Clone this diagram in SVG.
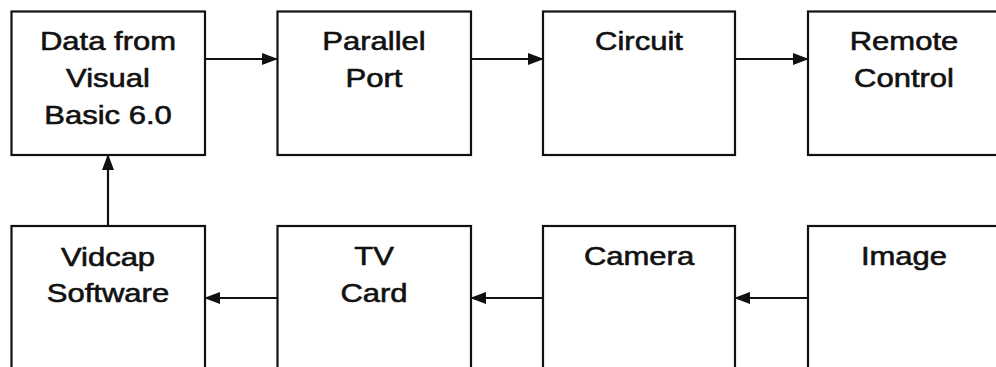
<svg xmlns="http://www.w3.org/2000/svg" width="996" height="367" viewBox="0 0 996 367">
<style>
.box{fill:#fff;stroke:#111;stroke-width:2.2}
.lbl{font-family:"Liberation Sans",Arial,sans-serif;font-size:26.5px;fill:#111;stroke:#111;stroke-width:0.6;text-anchor:middle}
.con{stroke:#111;stroke-width:2.2;fill:none}
</style>
<defs>
<marker id="ah" markerWidth="16" markerHeight="12" refX="15" refY="6" orient="auto" markerUnits="userSpaceOnUse">
<path d="M0,0 L16,6 L0,12 Z" fill="#111"/>
</marker>
</defs>
<rect width="996" height="367" fill="#fff"/>
<g id="n-data">
<rect class="box" x="11.5" y="11.5" width="193.5" height="143.5"/>
<g transform="translate(108,0) scale(1.17,1)"><text class="lbl" x="0" y="50">Data from</text><text class="lbl" x="0" y="87">Visual</text><text class="lbl" x="0" y="124">Basic 6.0</text></g>
</g>
<g id="n-parallel">
<rect class="box" x="277.5" y="11.5" width="193.5" height="143.5"/>
<g transform="translate(374,0) scale(1.17,1)"><text class="lbl" x="0" y="50">Parallel</text><text class="lbl" x="0" y="87">Port</text></g>
</g>
<g id="n-circuit">
<rect class="box" x="543" y="11.5" width="192" height="143.5"/>
<g transform="translate(639,0) scale(1.17,1)"><text class="lbl" x="0" y="50">Circuit</text></g>
</g>
<g id="n-remote">
<rect class="box" x="808" y="11.5" width="193" height="143.5"/>
<g transform="translate(904,0) scale(1.17,1)"><text class="lbl" x="0" y="50">Remote</text><text class="lbl" x="0" y="87">Control</text></g>
</g>
<g id="n-vidcap">
<rect class="box" x="11.5" y="226" width="193.5" height="150"/>
<g transform="translate(108,0) scale(1.17,1)"><text class="lbl" x="0" y="266">Vidcap</text><text class="lbl" x="0" y="302.5">Software</text></g>
</g>
<g id="n-tv">
<rect class="box" x="277.5" y="226" width="193.5" height="150"/>
<g transform="translate(374,0) scale(1.17,1)"><text class="lbl" x="0" y="265.5">TV</text><text class="lbl" x="0" y="302">Card</text></g>
</g>
<g id="n-camera">
<rect class="box" x="543" y="226" width="192" height="150"/>
<g transform="translate(639,0) scale(1.17,1)"><text class="lbl" x="0" y="265.5">Camera</text></g>
</g>
<g id="n-image">
<rect class="box" x="808" y="226" width="193" height="150"/>
<g transform="translate(904,0) scale(1.17,1)"><text class="lbl" x="0" y="265.5">Image</text></g>
</g>
<g id="connectors">
<line class="con" x1="205" y1="59" x2="277" y2="59" marker-end="url(#ah)"/>
<line class="con" x1="471" y1="59" x2="543" y2="59" marker-end="url(#ah)"/>
<line class="con" x1="735" y1="59" x2="808" y2="59" marker-end="url(#ah)"/>
<line class="con" x1="808" y1="298" x2="735" y2="298" marker-end="url(#ah)"/>
<line class="con" x1="543" y1="298" x2="471" y2="298" marker-end="url(#ah)"/>
<line class="con" x1="277" y1="298" x2="205" y2="298" marker-end="url(#ah)"/>
<line class="con" x1="108" y1="226" x2="108" y2="155" marker-end="url(#ah)"/>
</g>
</svg>
